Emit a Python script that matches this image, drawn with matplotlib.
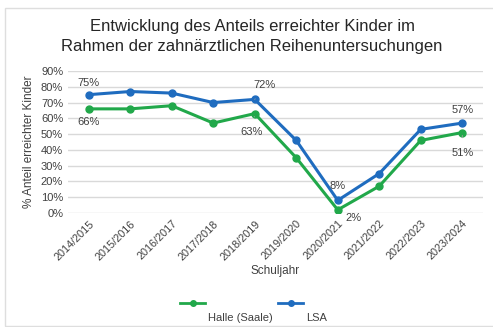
import matplotlib.pyplot as plt
from matplotlib.lines import Line2D
from matplotlib.patches import Rectangle
from matplotlib.ticker import PercentFormatter

plt.rcParams['font.family'] = ['Liberation Sans', 'DejaVu Sans']

# school years and share of children reached (%)
years = ['2014/2015', '2015/2016', '2016/2017', '2017/2018', '2018/2019',
         '2019/2020', '2020/2021', '2021/2022', '2022/2023', '2023/2024']
halle = [66, 66, 68, 57, 63, 35, 2, 17, 46, 51]
lsa = [75, 77, 76, 70, 72, 46, 8, 25, 53, 57]

green = '#21a84a'
blue = '#1f6cbf'
txt = '#404040'

W, H = 493, 327
fig = plt.figure(figsize=(W / 100, H / 100), dpi=100)
ax = fig.add_axes([68 / W, 1 - 213 / H, (483 - 68) / W, (213 - 71) / H])

x = list(range(len(years)))
ax.plot(x, halle, color=green, lw=2.2, marker='o', ms=5, label='Halle (Saale)')
ax.plot(x, lsa, color=blue, lw=2.2, marker='o', ms=5, label='LSA')

ax.set_xlim(-0.5, len(years) - 0.5)
ax.set_ylim(0, 90)
ax.set_yticks(range(0, 91, 10))
ax.yaxis.set_major_formatter(PercentFormatter(decimals=0))
ax.set_xticks(x)
ax.set_xticklabels(years, rotation=45, ha='right', rotation_mode='anchor')
ax.tick_params(length=0, colors=txt, labelsize=8)
ax.tick_params(axis='x', pad=4, labelsize=7.8)
ax.grid(axis='y', color='#d9d9d9', lw=1)
ax.set_axisbelow(True)
for s in ax.spines.values():
    s.set_visible(False)

ax.set_ylabel('% Anteil erreichter Kinder', color=txt, fontsize=8.5, labelpad=4)
ax.set_xlabel('Schuljahr', color=txt, fontsize=8.5, labelpad=2)

# data labels: (series, index, offset in px, leader line)
labels = [
    (lsa, 0, (0, 12), False), (halle, 0, (0, -13), False),
    (lsa, 4, (10, 14), True), (halle, 4, (-3, -18), True),
    (lsa, 6, (0, 14), False), (halle, 6, (16, -8), False),
    (lsa, 9, (0, 13), False), (halle, 9, (0, -20), True),
]
for series, i, off, lead in labels:
    arrow = dict(arrowstyle='-', color='#a6a6a6', lw=0.6, shrinkA=5, shrinkB=2) if lead else None
    ax.annotate(f'{series[i]}%', (i, series[i]), xytext=off, textcoords='offset pixels',
                ha='center', va='center', fontsize=8, color=txt, arrowprops=arrow)

fig.text(252 / W, 1 - 26 / H, 'Entwicklung des Anteils erreichter Kinder im',
         ha='center', va='center', fontsize=12, color='#262626')
fig.text(252 / W, 1 - 47 / H, 'Rahmen der zahnärztlichen Reihenuntersuchungen',
         ha='center', va='center', fontsize=12, color='#262626')

# legend, swatch above and text below
for (x1, x2, xt, name, c) in [(180, 205, 208, 'Halle (Saale)', green), (278, 303, 306, 'LSA', blue)]:
    fig.add_artist(Line2D([x1 / W, x2 / W], [1 - 303 / H] * 2, color=c, lw=2,
                          transform=fig.transFigure))
    fig.add_artist(Line2D([(x1 + x2) / 2 / W], [1 - 303 / H], color=c, marker='o', ms=4,
                          transform=fig.transFigure))
    fig.text(xt / W, 1 - 318 / H, name, ha='left', va='center', fontsize=8, color=txt)

fig.add_artist(Rectangle((5 / W, 0.002), 1.0, 1 - 9 / H, transform=fig.transFigure,
                         fill=False, edgecolor='#dedede', lw=1))

fig.savefig('out.png', dpi=100)
